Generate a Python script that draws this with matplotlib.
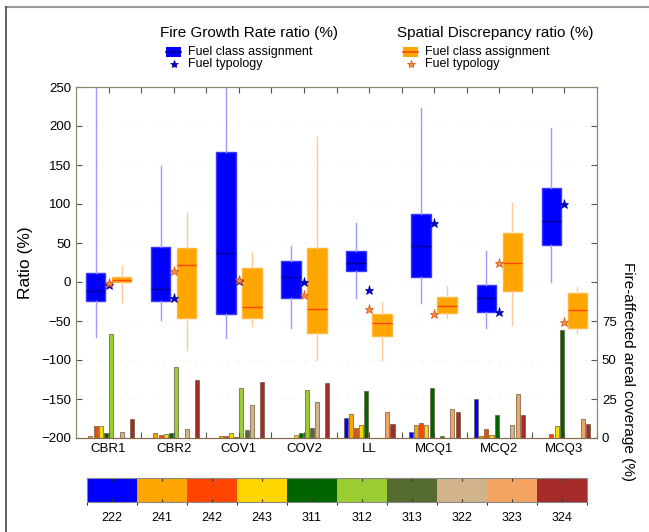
import numpy as np
import matplotlib
matplotlib.use('Agg')
import matplotlib.pyplot as plt
from matplotlib.colors import ListedColormap, BoundaryNorm
from matplotlib.cm import ScalarMappable
from matplotlib.patches import Rectangle
from matplotlib.lines import Line2D

plt.rcParams['font.family'] = ['Liberation Sans', 'DejaVu Sans']

sites = ['CBR1', 'CBR2', 'COV1', 'COV2', 'LL', 'MCQ1', 'MCQ2', 'MCQ3']

# Fire growth rate ratio (%) - fuel class assignment box statistics
fgr_whislo = [-70, -49, -72, -59, -20, -27, -59, 0]
fgr_q1 = [-24, -24, -41, -21, 14.5, 6.5, -38, 47.5]
fgr_med = [-11.5, -9, 37, 6.5, 25, 46, -20, 78.5]
fgr_q3 = [12, 45, 167, 27, 40, 87, -4, 121]
fgr_whishi = [290, 149, 270, 46.5, 75.5, 223, 40, 198]
# Fire growth rate ratio (%) - fuel typology
fgr_typ = [-4, -20, 1, 0, -10.5, 76, -39, 100]

# Spatial discrepancy ratio (%) - fuel class assignment box statistics
sd_whislo = [-26, -87, -56, -100, -100, -46, -55, -65]
sd_q1 = [0, -46, -46, -65.5, -69, -39.5, -12, -59]
sd_med = [2.5, 21.5, -31.5, -35, -53, -30.5, 24.5, -36]
sd_q3 = [7, 43, 18.5, 44, -41, -19, 63, -13.5]
sd_whishi = [20.5, 89, 37.5, 186, -25, -5, 101, -6.5]
# Spatial discrepancy ratio (%) - fuel typology
sd_typ = [-1, 14, 2.5, -17, -35, -41, 25, -51]

# Fire-affected areal coverage (%) per fuel class
fuel_classes = ['222', '241', '242', '243', '311', '312', '313', '322', '323', '324']
fuel_colors = ['#0000ff', '#ffa500', '#ff4500', '#ffd700', '#006400',
               '#9acd32', '#556b2f', '#d2b48c', '#f4a460', '#a52a2a']
coverage = np.array([
    # 222  241  242  243  311  312   313  322  323   324
    [0,    1,   7.7, 8,   3,   66.5, 0,   4,   0,    12],    # CBR1
    [0,    3,   2,   2.5, 3,   45.7, 0,   6,   0,    37],    # CBR2
    [0,    1,   1,   3,   0.5, 32,   5,   21,  0,    36],    # COV1
    [0,    0,   0,   2,   3,   31,   6.5, 23,  0,    35],    # COV2
    [12.8, 15.6, 6.6, 8.3, 30, 0,    0,   0,   16.7, 8.8],   # LL
    [3.8,  8.3, 9.6, 8.5, 32,  0,    1.3, 0,   18.5, 16.7],  # MCQ1
    [25,   1.3, 6,   2,   15,  0,    0,   8.5, 28,   14.5],  # MCQ2
    [0,    0,   2.3, 7.5, 69.5, 0,   0,   0,   12,   9],     # MCQ3
])

W, H = 649, 532
fig = plt.figure(figsize=(W / 100, H / 100), dpi=100)
ax = fig.add_axes([76 / W, 1 - 438 / H, 521 / W, 351 / H])
ax2 = ax.twinx()
ax.set_zorder(ax2.get_zorder() + 1)
ax.patch.set_visible(False)

pos = np.arange(1, len(sites) + 1)

# coverage bars on the right-hand axis
for i, (cls, col) in enumerate(zip(fuel_classes, fuel_colors)):
    ax2.bar(pos + (i - 4.5) * 0.08, coverage[:, i], width=0.062, color=col,
            edgecolor='#6a5a40', linewidth=0.5, zorder=2)
ax2.set_ylim(0, 225)
ax2.set_yticks(np.arange(0, 226, 25))
ax2.set_yticklabels(['0', '25', '50', '75'] + [''] * 6, fontsize=9.5)
ax2.tick_params(axis='y', direction='in', length=4, color='#555555')
# faint dotted grid kept underneath the bars
ax2.set_axisbelow(True)
ax2.grid(True, linestyle=(0, (1, 12)), color='#d8d8d8', linewidth=0.6)


def box_stats(lo, q1, med, q3, hi):
    return [dict(whislo=a, q1=b, med=c, q3=d, whishi=e, fliers=[])
            for a, b, c, d, e in zip(lo, q1, med, q3, hi)]


ax.bxp(box_stats(fgr_whislo, fgr_q1, fgr_med, fgr_q3, fgr_whishi),
       positions=pos - 0.2, widths=0.3, patch_artist=True, showcaps=False,
       showfliers=False,
       boxprops=dict(facecolor='#0000ff', edgecolor='#3a3aff', linewidth=1),
       whiskerprops=dict(color='#9a9aff', linewidth=1),
       medianprops=dict(color='#000090', linewidth=1))
ax.bxp(box_stats(sd_whislo, sd_q1, sd_med, sd_q3, sd_whishi),
       positions=pos + 0.2, widths=0.3, patch_artist=True, showcaps=False,
       showfliers=False,
       boxprops=dict(facecolor='#ffa500', edgecolor='#ffb83a', linewidth=1),
       whiskerprops=dict(color='#ffc898', linewidth=1),
       medianprops=dict(color='#ff4500', linewidth=1))

ax.plot(pos, fgr_typ, linestyle='none', marker='*', markersize=6.5,
        color='#0000d0', markeredgecolor='#000090', markeredgewidth=0.5, zorder=5)
ax.plot(pos, sd_typ, linestyle='none', marker='*', markersize=6.5,
        color='#ff8c3a', markeredgecolor='#d05010', markeredgewidth=0.5, zorder=6)

ax.set_xlim(0.5, 8.5)
ax.set_ylim(-200, 250)
ax.set_yticks(np.arange(-200, 251, 50))
ax.tick_params(axis='y', labelsize=9.5, direction='in', length=4, color='#555555')
xt = np.arange(1, 8.51, 0.5)
ax.set_xticks(xt)
ax.set_xticklabels([sites[int(v) - 1] if v == int(v) else '' for v in xt], fontsize=9.5)
ax.tick_params(axis='x', direction='in', length=4, top=True, color='#555555')
ax.set_ylabel('Ratio (%)', fontsize=12.5, labelpad=6)
for a in (ax, ax2):
    for s in a.spines.values():
        s.set_color('#8a8a6a')
ax.spines['bottom'].set_color('#8a6a4a')

fig.text(628 / W, 1 - 372 / H, 'Fire-affected areal coverage (%)', rotation=270,
         ha='center', va='center', fontsize=11)

# legend blocks above the axes
def legend_block(x0, title, face, edge_line, star_col, star_edge):
    fig.text(x0 / W, 1 - 33 / H, title, fontsize=11, va='center')
    px = x0 + 6
    fig.add_artist(Rectangle((px / W, 1 - 57 / H), 15 / W, 10 / H,
                             facecolor=face, edgecolor='none',
                             transform=fig.transFigure))
    fig.add_artist(Line2D([px / W, (px + 15) / W], [1 - 52 / H, 1 - 52 / H],
                          color=edge_line, linewidth=1.2, transform=fig.transFigure))
    fig.add_artist(Line2D([(px + 7.5) / W], [1 - 64 / H], marker='*', markersize=6,
                          color=star_col, markeredgecolor=star_edge,
                          markeredgewidth=0.5, transform=fig.transFigure))
    fig.text((x0 + 28) / W, 1 - 52 / H, 'Fuel class assignment', fontsize=9, va='center')
    fig.text((x0 + 28) / W, 1 - 64 / H, 'Fuel typology', fontsize=9, va='center')


legend_block(160, 'Fire Growth Rate ratio (%)', '#0000ff', '#000090', '#0000d0', '#000090')
legend_block(397, 'Spatial Discrepancy ratio (%)', '#ffa500', '#ff4500', '#ff8c3a', '#d05010')

# fuel class colour key
cax = fig.add_axes([87 / W, 1 - 502 / H, 500 / W, 24 / H])
cmap = ListedColormap(fuel_colors)
norm = BoundaryNorm(np.arange(len(fuel_colors) + 1) - 0.5, len(fuel_colors))
cb = fig.colorbar(ScalarMappable(norm=norm, cmap=cmap), cax=cax,
                  orientation='horizontal', ticks=np.arange(len(fuel_colors)))
cb.ax.set_xticklabels(fuel_classes, fontsize=9)
cb.ax.tick_params(direction='in', length=2.5, top=True, color='#333333', pad=7)
cb.outline.set_edgecolor('#888888')

# frame lines around the figure
fig.add_artist(Line2D([6 / W, 1], [1 - 7 / H, 1 - 7 / H], color='#999999',
                      linewidth=1.5, transform=fig.transFigure))
fig.add_artist(Line2D([6 / W, 6 / W], [0, 1 - 7 / H], color='#444444',
                      linewidth=1.2, transform=fig.transFigure))

fig.savefig('out.png', dpi=100)
